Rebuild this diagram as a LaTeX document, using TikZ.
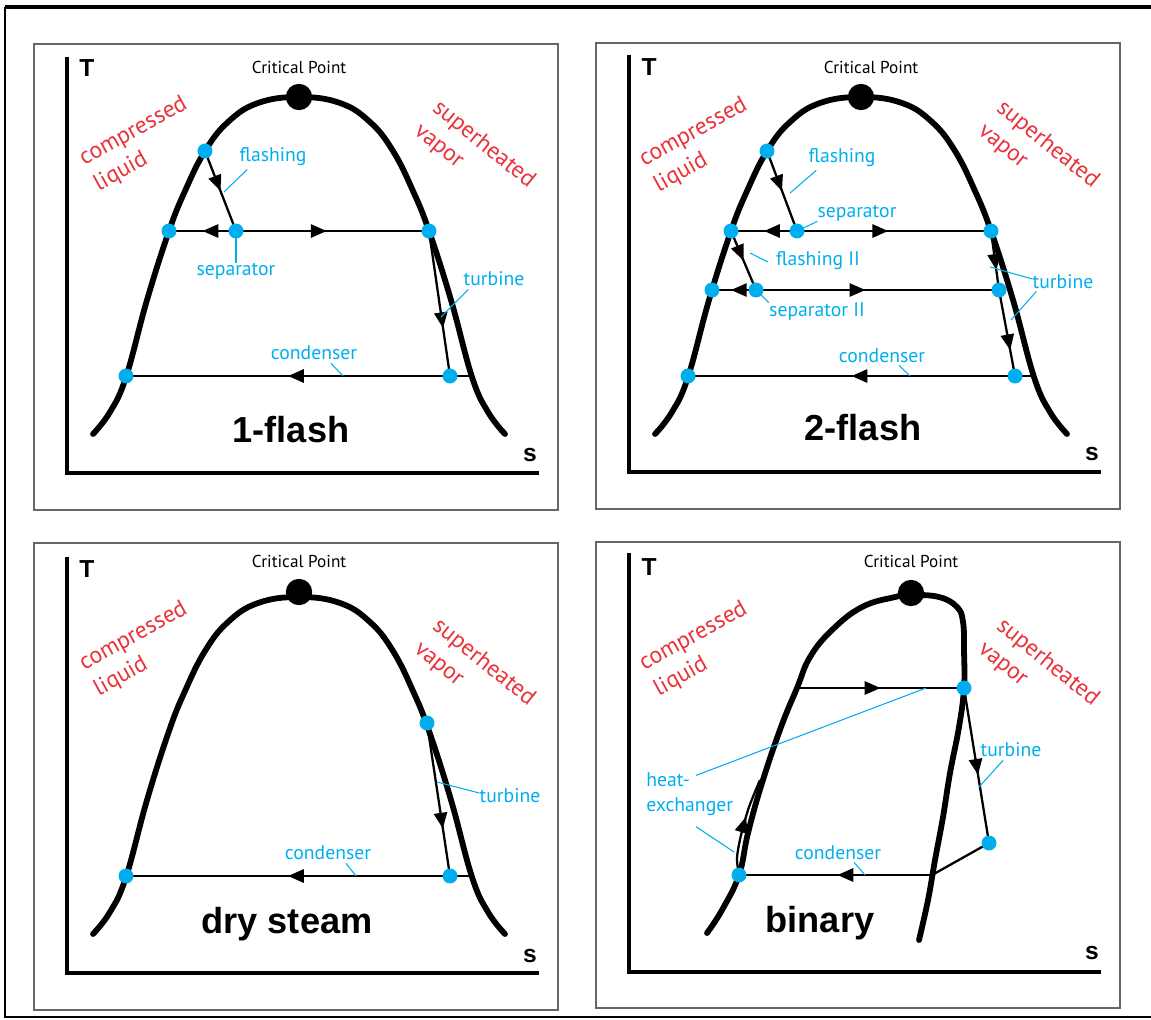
\documentclass[tikz,border=0pt]{standalone}
\usepackage{fontspec}
\setmainfont{PT Sans}
\newfontfamily\headfont{Liberation Sans}
\usetikzlibrary{arrows.meta,decorations.markings}
\definecolor{cycleblue}{RGB}{0,174,239}
\definecolor{phasered}{RGB}{233,50,58}
\newcommand{\bellcurve}{plot[smooth,tension=0.7] coordinates {(93,434) (110,412) (126,377) (147,300) (169,231) (185,191) (205,151) (228,122) (258,103) (299,97) (340,103) (370,122) (393,151) (413,191) (429,231) (451,300) (472,377) (488,412) (505,434)}}

\begin{document}
\begin{tikzpicture}[
  x=0.02cm, y=-0.02cm,
  panelbox/.style={draw=black!60, line width=1.6pt},
  axisline/.style={line width=2.6pt, line join=miter},
  dome/.style={line width=3.3pt, line cap=round, line join=round},
  cyc/.style={line width=1.3pt},
  lead/.style={draw=cycleblue, line width=0.6pt},
  statedot/.style={circle, fill=cycleblue, inner sep=0pt, minimum size=8.5pt},
  critdot/.style={circle, fill=black, inner sep=0pt, minimum size=15pt},
  critlbl/.style={font=\fontsize{9.8}{12}\selectfont, inner sep=0pt, anchor=base},
  lbl/.style={text=cycleblue, font=\fontsize{11.2}{14}\selectfont, inner sep=0pt},
  phase/.style={text=phasered, font=\fontsize{13.4}{16.8}\selectfont, inner sep=0pt, align=left, anchor=north west},
  axlbl/.style={font=\headfont\bfseries\fontsize{14}{16}\selectfont, inner sep=0pt, anchor=base},
  casename/.style={font=\headfont\bfseries\fontsize{20.6}{24}\selectfont, inner sep=0pt, anchor=base},
  midarrow/.style={postaction={decorate}, decoration={markings, mark=at position #1 with {\arrow{Triangle[length=9pt,width=7.5pt]}}}},
  midarrow/.default=0.5
]
\useasboundingbox (0,0) rectangle (1151,1019);

% outer frame
\draw[line width=2.2pt] (5,7) -- (1151,7);
\draw[line width=1.5pt] (5,7) -- (5,1017) -- (1151,1017);

% ---- 1-flash ----
\begin{scope}
\draw[panelbox] (34,44) rectangle (558,510);
\draw[axisline] (67,57) -- (67,473) -- (539,473);
\node[axlbl] (p1T) at (87,76) {T};
\node[axlbl] (p1s) at (530,461) {s};
\draw[dome] \bellcurve;
\node[critlbl] (p1cl) at (299,73) {Critical Point};
\node[phase, rotate=29] (p1cq) at (76,151) {compressed\\liquid};
\node[phase, rotate=-39] (p1sh) at (442,97) {superheated\\vapor};
\node[casename] (p1name) at (291,442) {1-flash};
% states
\coordinate (p1a) at (205,151);
\coordinate (p1b) at (236,231);
\coordinate (p1c) at (169,231);
\coordinate (p1d) at (429,231);
\coordinate (p1e) at (450,376);
\coordinate (p1f) at (126,376);
\coordinate (p1g) at (472,376);
% cycle
\draw[cyc, midarrow] (p1a) -- (p1b);
\draw[cyc, midarrow] (p1b) -- (p1c);
\draw[cyc, midarrow=0.47] (p1b) -- (p1d);
\draw[cyc, midarrow=0.67] (p1d) -- (p1e);
\draw[cyc] (p1g) -- (p1e);
\draw[cyc, midarrow] (p1e) -- (p1f);
\node[critdot] (p1cp) at (299,97) {};
\foreach \s in {a,b,c,d,e,f} \node[statedot] (d1\s) at (p1\s) {};
% labels
\node[lbl] (p1fl) at (273,157) {flashing};
\node[lbl] (p1sp) at (236,271) {separator};
\node[lbl] (p1tb) at (494,279) {turbine};
\node[lbl] (p1cd) at (314,353) {condenser};
\coordinate (p1x1) at (224,192);
\coordinate (p1x2) at (441,317);
\coordinate (p1x3) at (343,376);
\draw[lead] (p1fl.south west) ++(8,3) -- (p1x1);
\draw[lead] (p1b) -- (p1sp.north);
\draw[lead] (p1tb.south west) ++(5,3) -- (p1x2);
\draw[lead] (p1cd.south) ++(17,3) -- (p1x3);
\end{scope}

% ---- 2-flash ----
\begin{scope}[shift={(562,0)}]
\draw[panelbox] (34,43) rectangle (558,509);
\draw[axisline] (67,55) -- (67,472) -- (539,472);
\node[axlbl] (p2T) at (87,75) {T};
\node[axlbl] (p2s) at (530,460) {s};
\draw[dome] \bellcurve;
\node[critlbl] (p2cl) at (309,73) {Critical Point};
\node[phase, rotate=29] (p2cq) at (74,152) {compressed\\liquid};
\node[phase, rotate=-39] (p2sh) at (444,97) {superheated\\vapor};
\node[casename] (p2name) at (301,440) {2-flash};
% states
\coordinate (p2a) at (205,151);
\coordinate (p2b) at (235,231);
\coordinate (p2c) at (169,231);
\coordinate (p2d) at (429,231);
\coordinate (p2e) at (150,290);
\coordinate (p2f) at (194,290);
\coordinate (p2g) at (437,290);
\coordinate (p2h) at (453,376);
\coordinate (p2i) at (126,376);
\coordinate (p2j) at (472,376);
% cycle
\draw[cyc, midarrow] (p2a) -- (p2b);
\draw[cyc, midarrow] (p2b) -- (p2c);
\draw[cyc, midarrow=0.47] (p2b) -- (p2d);
\draw[cyc, midarrow] (p2c) -- (p2f);
\draw[cyc, midarrow=0.57] (p2f) -- (p2e);
\draw[cyc, midarrow=0.45] (p2f) -- (p2g);
\draw[cyc, midarrow=0.66] (p2d) -- (p2g);
\draw[cyc, midarrow=0.7] (p2g) -- (p2h);
\draw[cyc] (p2j) -- (p2h);
\draw[cyc, midarrow] (p2h) -- (p2i);
\node[critdot] (p2cp) at (299,97) {};
\foreach \s in {a,b,c,d,e,f,g,h,i} \node[statedot] (d2\s) at (p2\s) {};
% labels
\node[lbl] (p2fl) at (280,158) {flashing};
\node[lbl] (p2sp) at (295,213) {separator};
\node[lbl] (p2f2) at (256,261) {flashing II};
\node[lbl] (p2s2) at (255,312) {separator II};
\node[lbl] (p2tb) at (501,282) {turbine};
\node[lbl] (p2cd) at (320,356) {condenser};
\coordinate (p2x1) at (228,193);
\coordinate (p2x2) at (188,253);
\coordinate (p2x3) at (428,267);
\coordinate (p2x4) at (449,320);
\coordinate (p2x5) at (348,376);
\draw[lead] (p2fl.south west) ++(8,3) -- (p2x1);
\draw[lead] (p2b) -- (p2sp.south west);
\draw[lead] (p2f2.west) ++(-8,1) -- (p2x2);
\draw[lead] (p2f) -- (p2s2.north west);
\draw[lead] (p2tb.west) ++(0,-3) -- (p2x3);
\draw[lead] (p2tb.south west) ++(4,2) -- (p2x4);
\draw[lead] (p2cd.south) ++(17,2) -- (p2x5);
\end{scope}

% ---- dry steam ----
\begin{scope}[shift={(0,500)}]
\draw[panelbox] (34,43) rectangle (558,510);
\draw[axisline] (67,57) -- (67,473) -- (539,473);
\node[axlbl] (p3T) at (87,77) {T};
\node[axlbl] (p3s) at (530,462) {s};
\draw[dome] \bellcurve;
\node[critlbl] (p3cl) at (299,67) {Critical Point};
\node[phase, rotate=29] (p3cq) at (76,156) {compressed\\liquid};
\node[phase, rotate=-39] (p3sh) at (442,115) {superheated\\vapor};
\node[casename] (p3name) at (287,433) {dry steam};
% states
\coordinate (p3a) at (427,223);
\coordinate (p3b) at (450,376);
\coordinate (p3c) at (126,376);
\coordinate (p3d) at (472,376);
% cycle
\draw[cyc, midarrow=0.69] (p3a) -- (p3b);
\draw[cyc] (p3d) -- (p3b);
\draw[cyc, midarrow] (p3b) -- (p3c);
\node[critdot] (p3cp) at (299,92) {};
\foreach \s in {a,b,c} \node[statedot] (d3\s) at (p3\s) {};
% labels
\node[lbl] (p3tb) at (510,296) {turbine};
\node[lbl] (p3cd) at (328,353) {condenser};
\coordinate (p3x1) at (437,282);
\coordinate (p3x2) at (356,376);
\draw[lead] (p3tb.west) ++(0,-3) -- (p3x1);
\draw[lead] (p3cd.south) ++(18,3) -- (p3x2);
\end{scope}

% ---- binary ----
\begin{scope}[shift={(562,500)}]
\draw[panelbox] (34,42) rectangle (558,508);
\draw[axisline] (67,53) -- (67,472) -- (539,472);
\node[axlbl] (p4T) at (87,75) {T};
\node[axlbl] (p4s) at (530,459) {s};
\draw[dome] plot[smooth,tension=0.7] coordinates {(145,433) (160,410) (177,375) (186,333) (200,283) (219,227) (235,188) (248,157) (270,130) (300,107) (333,97) (349,95) (377,97) (395,107) (401,122) (402,150) (402,188) (397,227) (388,273) (381,317) (373,360) (366,400) (357,440)};
\node[critlbl] (p4cl) at (349,67) {Critical Point};
\node[phase, rotate=29] (p4cq) at (74,156) {compressed\\liquid};
\node[phase, rotate=-39] (p4sh) at (444,115) {superheated\\vapor};
\node[casename] (p4name) at (258,432) {binary};
% states
\coordinate (p4a) at (177,375);
\coordinate (p4b) at (235,188);
\coordinate (p4c) at (402,188);
\coordinate (p4d) at (427,343);
\coordinate (p4e) at (370,375);
% cycle
\draw[cyc, midarrow=0.6] plot[smooth] coordinates {(p4a) (175,358) (179,335) (187,307) (198,280)};
\draw[cyc, midarrow] (p4b) -- (p4c);
\draw[cyc, midarrow=0.56] (p4c) -- (p4d);
\draw[cyc] (p4d) -- (p4e);
\draw[cyc, midarrow=0.49] (p4e) -- (p4a);
\node[critdot] (p4cp) at (349,93) {};
\foreach \s in {a,c,d} \node[statedot] (d4\s) at (p4\s) {};
% labels
\node[lbl] (p4tb) at (449,250) {turbine};
\node[lbl] (p4cd) at (276,353) {condenser};
\node[lbl, align=left, anchor=west] (p4hx) at (84,294) {heat-\\exchanger};
\coordinate (p4x1) at (417,287);
\coordinate (p4x2) at (303,375);
\coordinate (p4x3) at (364,188);
\coordinate (p4x4) at (172,352);
\draw[lead] (p4tb.south) ++(-8,3) -- (p4x1);
\draw[lead] (p4cd.south) ++(16,2) -- (p4x2);
\draw[lead] (p4hx.north west) ++(50,3) -- (p4x3);
\draw[lead] (p4hx.south west) ++(50,11) -- (p4x4);
\end{scope}

\end{tikzpicture}
\end{document}
